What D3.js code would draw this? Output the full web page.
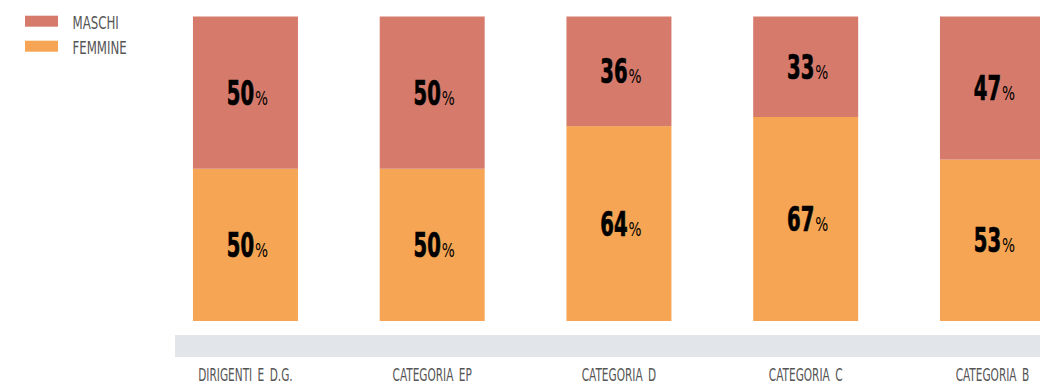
<!DOCTYPE html>
<html>
<head>
<meta charset="utf-8">
<script src="https://cdn.jsdelivr.net/npm/d3@7"></script>
<style>
  html, body { margin: 0; padding: 0; background: #fff; }
  svg { display: block; }
  .cond { font-family: "DejaVu Sans Condensed", "Liberation Sans Narrow", "Roboto", sans-serif; }
</style>
</head>
<body>
<svg id="chart" width="1040" height="384"></svg>
<script>
// Gender split by staff category (percent)
const categories = ["DIRIGENTI E D.G.", "CATEGORIA EP", "CATEGORIA D", "CATEGORIA C", "CATEGORIA B"];
const maschi   = [50, 50, 36, 33, 47];
const femmine  = [50, 50, 64, 67, 53];
const seriesNames  = ["MASCHI", "FEMMINE"];
const seriesColors = ["#D67B6C", "#F5A553"];

const svg = d3.select("#chart");
const W = 1040, H = 384;

const rows = categories.map((c, i) => ({ cat: c, FEMMINE: femmine[i], MASCHI: maschi[i] }));
const stack = d3.stack().keys(["FEMMINE", "MASCHI"]);
const layers = stack(rows);

const x = d3.scaleBand()
  .domain(categories)
  .range([111.2, 1126.7])
  .paddingInner(0.4378)
  .paddingOuter(0.4378);

const y = d3.scaleLinear().domain([0, 100]).range([321, 16.5]);
const color = d3.scaleOrdinal().domain(seriesNames).range(seriesColors);

// Base strip under the bars
svg.append("rect")
  .attr("x", 175).attr("y", 335)
  .attr("width", W - 175).attr("height", 22)
  .attr("fill", "#E2E5EA");

// Stacked bars
const layerG = svg.append("g").selectAll("g")
  .data(layers).join("g")
  .attr("fill", d => color(d.key));

layerG.selectAll("rect")
  .data(d => d)
  .join("rect")
  .attr("x", d => x(d.data.cat))
  .attr("y", d => y(d[1]))
  .attr("width", x.bandwidth())
  .attr("height", d => y(d[0]) - y(d[1]));

// Value labels centred in each segment: condensed heavy number + light "%"
const numScale = 0.66, pctScale = 0.8;
const labelG = svg.append("g").attr("class", "cond");
layers.forEach(layer => {
  layer.forEach(d => {
    const cx = x(d.data.cat) + x.bandwidth() / 2 + 2;
    const cy = (y(d[0]) + y(d[1])) / 2 + 12;
    const g = labelG.append("g").attr("transform", `translate(${cx},${cy})`);
    const num = g.append("text")
      .attr("font-size", 33)
      .attr("font-weight", 700)
      .attr("fill", "#000")
      .attr("stroke", "#000")
      .attr("stroke-width", 0.7)
      .text(d.data[layer.key]);
    const pct = g.append("text")
      .attr("font-size", 19)
      .attr("font-weight", 400)
      .attr("fill", "#000")
      .text("%");
    const wn = num.node().getComputedTextLength() * numScale;
    const wp = pct.node().getComputedTextLength() * pctScale;
    const left = -(wn + wp + 1) / 2;
    num.attr("transform", `translate(${left},0) scale(${numScale},1)`);
    pct.attr("transform", `translate(${left + wn + 1},0) scale(${pctScale},1)`);
  });
});

// Category labels
const axisG = svg.append("g").attr("class", "cond");
categories.forEach(c => {
  axisG.append("text")
    .attr("transform", `translate(${x(c) + x.bandwidth() / 2},381) scale(0.69,1)`)
    .attr("text-anchor", "middle")
    .attr("font-size", 17)
    .attr("fill", "#555")
    .attr("word-spacing", 3)
    .text(c);
});

// Legend
const legend = svg.append("g").attr("class", "cond");
seriesNames.forEach((s, i) => {
  const gy = 15.7 + i * 25;
  legend.append("rect")
    .attr("x", 25).attr("y", gy)
    .attr("width", 33).attr("height", 11)
    .attr("fill", color(s));
  legend.append("text")
    .attr("transform", `translate(72.5,${gy + 13.3}) scale(0.77,1)`)
    .attr("font-size", 17)
    .attr("fill", "#555")
    .text(s);
});
</script>
</body>
</html>
